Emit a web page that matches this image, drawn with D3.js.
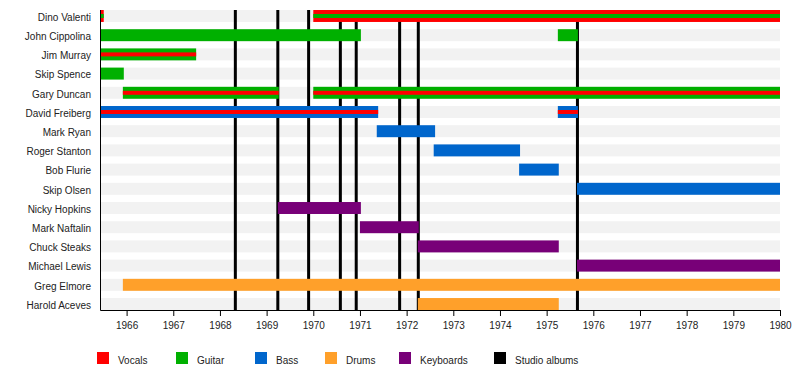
<!DOCTYPE html>
<html>
<head>
<meta charset="utf-8">
<script src="https://cdn.jsdelivr.net/npm/d3@7"></script>
<style>
  body { margin: 0; background: #fff; }
  svg text { font-family: "Liberation Sans", Arial, sans-serif; font-size: 10px; fill: #222; }
</style>
</head>
<body>
<svg id="timeline" width="800" height="370"></svg>
<script>
const members = [
  'Dino Valenti', 'John Cippolina', 'Jim Murray', 'Skip Spence', 'Gary Duncan',
  'David Freiberg', 'Mark Ryan', 'Roger Stanton', 'Bob Flurie', 'Skip Olsen',
  'Nicky Hopkins', 'Mark Naftalin', 'Chuck Steaks', 'Michael Lewis', 'Greg Elmore',
  'Harold Aceves'
];

const roles = ['Vocals', 'Guitar', 'Bass', 'Drums', 'Keyboards', 'Studio albums'];
const roleColors = ['#ff0000', '#00b000', '#0066cc', '#ffa02a', '#780078', '#000000'];

// member, start, end, main role, second role (middle stripe)
const stints = [
  ['Dino Valenti', 1965.43, 1965.51, 'Vocals', 'Guitar'],
  ['Dino Valenti', 1970.0, 1980, 'Vocals', 'Guitar'],
  ['John Cippolina', 1965.43, 1971.02, 'Guitar', null],
  ['John Cippolina', 1975.24, 1975.67, 'Guitar', null],
  ['Jim Murray', 1965.43, 1967.49, 'Guitar', 'Vocals'],
  ['Skip Spence', 1965.43, 1965.94, 'Guitar', null],
  ['Gary Duncan', 1965.92, 1969.26, 'Guitar', 'Vocals'],
  ['Gary Duncan', 1970.0, 1980, 'Guitar', 'Vocals'],
  ['David Freiberg', 1965.43, 1971.39, 'Bass', 'Vocals'],
  ['David Freiberg', 1975.24, 1975.67, 'Bass', 'Vocals'],
  ['Mark Ryan', 1971.36, 1972.61, 'Bass', null],
  ['Roger Stanton', 1972.58, 1974.43, 'Bass', null],
  ['Bob Flurie', 1974.41, 1975.26, 'Bass', null],
  ['Skip Olsen', 1975.65, 1980, 'Bass', null],
  ['Nicky Hopkins', 1969.24, 1971.02, 'Keyboards', null],
  ['Mark Naftalin', 1971.0, 1972.26, 'Keyboards', null],
  ['Chuck Steaks', 1972.24, 1975.26, 'Keyboards', null],
  ['Michael Lewis', 1975.65, 1980, 'Keyboards', null],
  ['Greg Elmore', 1965.92, 1980, 'Drums', null],
  ['Harold Aceves', 1972.24, 1975.26, 'Drums', null]
];

const albumDates = [1968.33, 1969.24, 1969.9, 1970.58, 1970.92, 1971.85, 1972.25, 1975.66];
const tickYears = d3.range(1966, 1981);

const startYear = 1965.43;
const endYear = 1980;
const legendX = [97, 176, 255, 325, 399, 494];

const svg = d3.select('#timeline');

const x = d3.scaleLinear().domain([startYear, endYear]).range([100, 780]);
const y = d3.scaleBand().domain(members).range([10, 310]).paddingInner(0.377).paddingOuter(0);
const color = d3.scaleOrdinal().domain(roles).range(roleColors);

// grey row stripes
svg.append('g')
  .selectAll('rect')
  .data(members)
  .join('rect')
  .attr('x', x(startYear))
  .attr('y', d => y(d))
  .attr('width', x(endYear) - x(startYear))
  .attr('height', y.bandwidth())
  .attr('fill', '#f2f2f2');

// studio album lines
svg.append('g')
  .selectAll('line')
  .data(albumDates)
  .join('line')
  .attr('x1', d => x(d))
  .attr('x2', d => x(d))
  .attr('y1', 10)
  .attr('y2', 310)
  .attr('stroke', '#000')
  .attr('stroke-width', 3);

// member bars
const bars = svg.append('g')
  .selectAll('g')
  .data(stints)
  .join('g');

bars.append('rect')
  .attr('x', d => x(d[1]))
  .attr('y', d => y(d[0]))
  .attr('width', d => x(d[2]) - x(d[1]))
  .attr('height', y.bandwidth())
  .attr('fill', d => color(d[3]));

bars.filter(d => d[4])
  .append('rect')
  .attr('x', d => x(d[1]))
  .attr('y', d => y(d[0]) + y.bandwidth() / 3)
  .attr('width', d => x(d[2]) - x(d[1]))
  .attr('height', y.bandwidth() / 3)
  .attr('fill', d => color(d[4]));

// names
svg.append('g')
  .selectAll('text')
  .data(members)
  .join('text')
  .attr('x', 91)
  .attr('y', d => y(d) + y.bandwidth() / 2)
  .attr('dy', '0.48em')
  .attr('text-anchor', 'end')
  .text(d => d);

// axes
const xAxis = d3.axisBottom(x)
  .tickValues(tickYears)
  .tickFormat(d3.format('d'))
  .tickSize(6)
  .tickPadding(6);

const gx = svg.append('g')
  .attr('transform', 'translate(0,310)')
  .call(xAxis);
gx.select('.domain').attr('stroke', '#000').attr('d', 'M100.5,0.5H780');
gx.selectAll('.tick line').attr('stroke', '#000');
gx.selectAll('.tick text').attr('font-size', 10).attr('font-family', '"Liberation Sans", Arial, sans-serif').attr('fill', '#222');

svg.append('line')
  .attr('x1', 100.5).attr('x2', 100.5)
  .attr('y1', 10).attr('y2', 310.5)
  .attr('stroke', '#000');

// legend
const legend = svg.append('g')
  .selectAll('g')
  .data(roles)
  .join('g')
  .attr('transform', (d, i) => `translate(${legendX[i]},352)`);

legend.append('rect')
  .attr('width', 12)
  .attr('height', 12)
  .attr('fill', d => color(d));

legend.append('text')
  .attr('x', 21)
  .attr('y', 12)
  .text(d => d);
</script>
</body>
</html>
